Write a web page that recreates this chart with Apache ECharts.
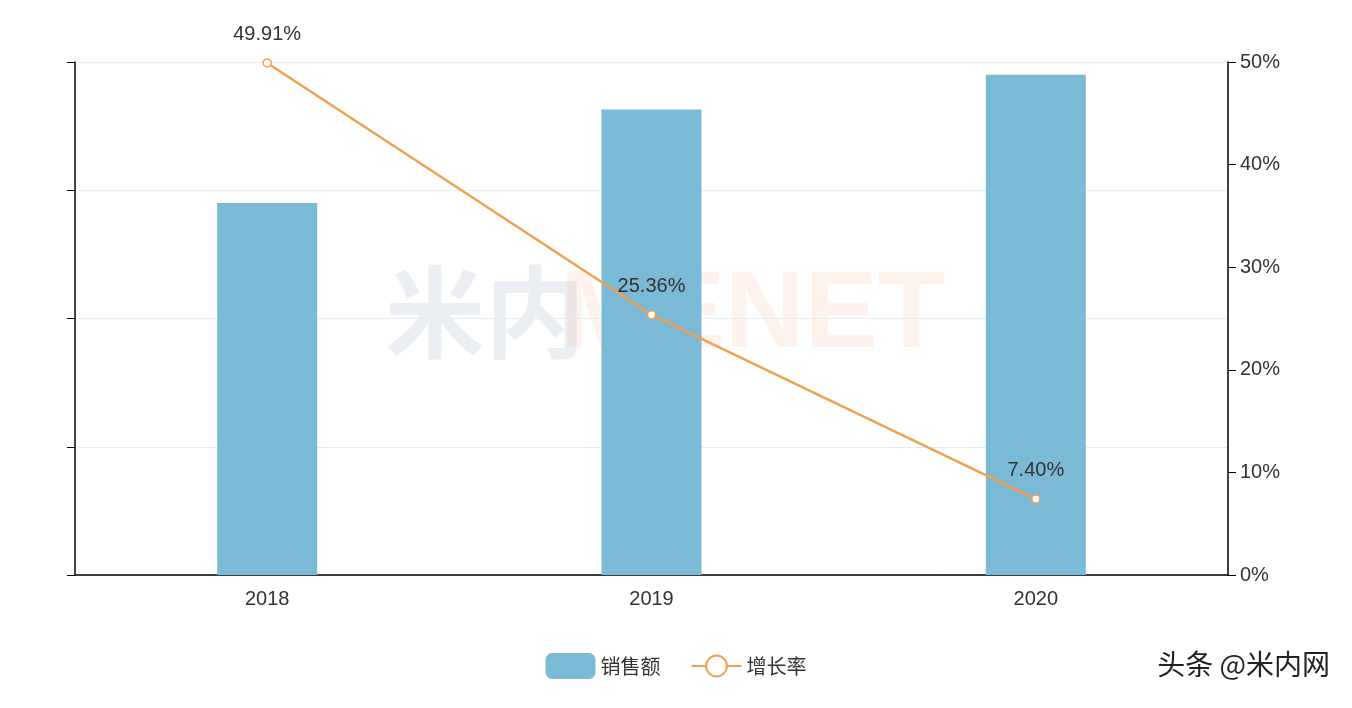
<!DOCTYPE html>
<html><head><meta charset="utf-8">
<script src="https://cdn.jsdelivr.net/npm/echarts@6/dist/echarts.min.js"></script>
<style>html,body{margin:0;padding:0;background:#fff}#c{width:1352px;height:708px}</style>
</head><body><div id="c"></div>
<script>
const categories = ['2018','2019','2020'];
const sales = [2.90, 3.63, 3.90];
const growth = [49.91, 25.36, 7.40];
const chart = echarts.init(document.getElementById('c'));
chart.setOption({
  animation:false,
  grid:{left:75,right:124,top:62,bottom:133},
  graphic:[
    {type:'text',left:385,top:262,style:{text:'米内',font:'bold 100px "Noto Sans CJK SC"',fill:'rgba(120,150,180,0.15)'}},
    {type:'text',left:560,top:262,style:{text:'MENET',font:'bold 110px "Liberation Sans"',fill:'rgba(250,150,110,0.12)'}},
    {type:'text',right:22,top:650,style:{text:'头条 @米内网',font:'28px "Noto Sans CJK SC"',fill:'#222'}}
  ],
  legend:{bottom:24,left:'center',itemWidth:50,itemHeight:26,itemGap:30,textStyle:{fontSize:20,color:'#333',fontFamily:'Noto Sans CJK SC'},
    data:['销售额','增长率']},
  xAxis:{type:'category',data:categories,axisLine:{lineStyle:{color:'#000',width:1.5}},axisTick:{length:6,lineStyle:{color:'#000'}},
    axisLabel:{fontSize:20,color:'#333',margin:14}},
  yAxis:[
    {type:'value',min:0,max:4,interval:1,axisLine:{show:true,lineStyle:{color:'#000',width:1.5}},axisTick:{show:true,length:8,lineStyle:{color:'#000'}},
      axisLabel:{show:false},splitLine:{lineStyle:{color:'#e6ecf2'}}},
    {type:'value',min:0,max:50,interval:10,position:'right',axisLine:{show:true,lineStyle:{color:'#000',width:1.5}},axisTick:{show:true,length:8,lineStyle:{color:'#000'}},
      axisLabel:{formatter:'{value}%',fontSize:20,color:'#333',margin:12},splitLine:{show:false}}
  ],
  series:[
    {name:'销售额',type:'bar',data:sales,barWidth:100,itemStyle:{color:'#7bbad7'}},
    {name:'增长率',type:'line',yAxisIndex:1,data:growth,symbol:'circle',symbolSize:8,
      lineStyle:{color:'#f0a050',width:2.5},itemStyle:{color:'#fff',borderColor:'#f0a050',borderWidth:1.5},
      label:{show:true,position:'top',distance:14,formatter:p=>p.value.toFixed(2)+'%',fontSize:20,color:'#333'}}
  ]
});
</script></body></html>
